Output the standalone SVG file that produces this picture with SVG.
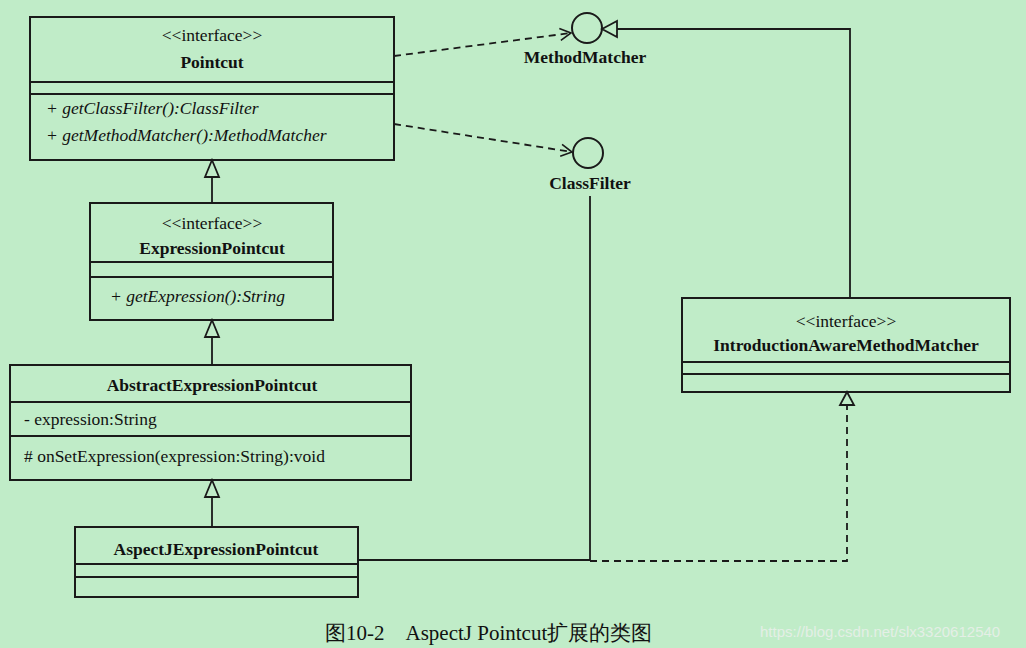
<svg xmlns="http://www.w3.org/2000/svg" width="1026" height="648" viewBox="0 0 1026 648">
<style>
.b{fill:none;stroke:#1a1a1a;stroke-width:2}
.l{fill:none;stroke:#1a1a1a;stroke-width:1.8}
.d{fill:none;stroke:#1a1a1a;stroke-width:1.8;stroke-dasharray:7,5}
text{font-family:"Liberation Serif",serif;font-size:17.5px;fill:#111}
.n{font-weight:bold;text-anchor:middle}
.s{text-anchor:middle}
.i{font-style:italic}
</style>
<defs>
<marker id="o" markerWidth="14" markerHeight="14" refX="12" refY="7" orient="auto" markerUnits="userSpaceOnUse"><path d="M1,1 L12,7 L1,13" fill="none" stroke="#1a1a1a" stroke-width="1.6"/></marker>
</defs>
<rect width="1026" height="648" fill="#c0ecc8"/>
<g id="Pointcut">
<rect class="b" x="30" y="17" width="364" height="143"/>
<line class="l" x1="30" y1="82" x2="394" y2="82"/><line class="l" x1="30" y1="94" x2="394" y2="94"/>
<text class="s" x="212" y="41">&lt;&lt;interface&gt;&gt;</text>
<text class="n" x="212" y="68">Pointcut</text>
<text class="i" x="46" y="114">+ getClassFilter():ClassFilter</text>
<text class="i" x="46" y="141">+ getMethodMatcher():MethodMatcher</text>
</g>
<g id="ExpressionPointcut">
<rect class="b" x="90" y="203" width="243" height="117"/>
<line class="l" x1="90" y1="262" x2="333" y2="262"/><line class="l" x1="90" y1="277" x2="333" y2="277"/>
<text class="s" x="212" y="229">&lt;&lt;interface&gt;&gt;</text>
<text class="n" x="212" y="254">ExpressionPointcut</text>
<text class="i" x="110" y="302">+ getExpression():String</text>
</g>
<g id="AbstractExpressionPointcut">
<rect class="b" x="10" y="365" width="401" height="115"/>
<line class="l" x1="10" y1="402" x2="411" y2="402"/><line class="l" x1="10" y1="436" x2="411" y2="436"/>
<text class="n" x="212" y="391">AbstractExpressionPointcut</text>
<text x="24" y="425">- expression:String</text>
<text x="24" y="462"># onSetExpression(expression:String):void</text>
</g>
<g id="AspectJExpressionPointcut">
<rect class="b" x="75" y="527" width="283" height="70"/>
<line class="l" x1="75" y1="564" x2="358" y2="564"/><line class="l" x1="75" y1="577" x2="358" y2="577"/>
<text class="n" x="216" y="555">AspectJExpressionPointcut</text>
</g>
<g id="IntroductionAwareMethodMatcher">
<rect class="b" x="682" y="298" width="328" height="94"/>
<line class="l" x1="682" y1="362" x2="1010" y2="362"/><line class="l" x1="682" y1="374" x2="1010" y2="374"/>
<text class="s" x="846" y="327">&lt;&lt;interface&gt;&gt;</text>
<text class="n" x="846" y="351">IntroductionAwareMethodMatcher</text>
</g>
<g id="MethodMatcher">
<circle class="b" cx="587" cy="28" r="15"/>
<text class="n" x="585" y="63">MethodMatcher</text>
</g>
<g id="ClassFilter">
<circle class="b" cx="588" cy="153" r="15"/>
<text class="n" x="590" y="189">ClassFilter</text>
</g>
<g id="connectors">
<path class="d" d="M394,56 L571,33" marker-end="url(#o)"/>
<path class="d" d="M394,124 L572,152" marker-end="url(#o)"/>
<path class="l" d="M617,29 L850,29 L850,298"/>
<path d="M602,29 L617,21 L617,37 Z" fill="#c0ecc8" stroke="#1a1a1a" stroke-width="1.8"/>
<path class="l" d="M590,196 L590,560 L358,560"/>
<path class="d" d="M590,561 L847,561 L847,405"/>
<path d="M847,392 L840,405 L854,405 Z" fill="#c0ecc8" stroke="#1a1a1a" stroke-width="1.8"/>
<path class="l" d="M212,178 L212,203 M212,338 L212,365 M212,498 L212,527"/>
<path d="M212,160 L205,177 L219,177 Z M212,320 L205,337 L219,337 Z M212,480 L205,497 L219,497 Z" fill="#c0ecc8" stroke="#1a1a1a" stroke-width="1.8"/>
</g>
<text x="325" y="640" style="font-size:21px">图10-2　AspectJ Pointcut扩展的类图</text>
<text x="760" y="637" style="font-family:'Liberation Sans',sans-serif;font-size:15px;fill:#e4efe6">https://blog.csdn.net/slx3320612540</text>
</svg>
